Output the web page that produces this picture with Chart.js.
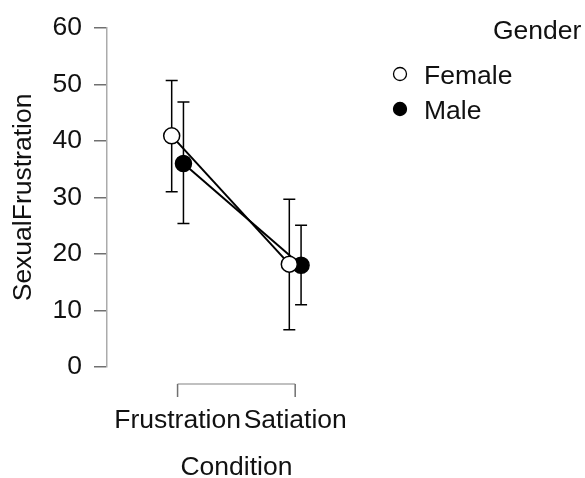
<!DOCTYPE html>
<html><head><meta charset="utf-8">
<script src="https://cdn.jsdelivr.net/npm/chart.js@4"></script>
<style>html,body{margin:0;padding:0;background:#fff}#wrap{width:585px;height:478px}</style>
</head><body><div id="wrap"><canvas id="c" width="585" height="478"></canvas></div>
<script>
const categories = ['Frustration', 'Satiation'];
const seriesNames = ['Female', 'Male'];
const femaleMeans = [40.9, 18.2];
const femaleLower = [31.0, 6.6];
const femaleUpper = [50.7, 29.7];
const maleMeans = [36.0, 18.0];
const maleLower = [25.4, 11.0];
const maleUpper = [46.9, 25.1];
const yTicks = [0, 10, 20, 30, 40, 50, 60];
const xTitle = 'Condition';
const yTitle = 'SexualFrustration';
const legendTitle = 'Gender';

const FONT = '"Liberation Sans", Arial, sans-serif';
const FS = 26.5;
const AXIS = '#ababab';
const TICK = '#707070';
const TXT = '#111';
const dodge = [-0.05, 0.05];

function pts(means, k) {
  return means.map((m, i) => ({ x: i + 1 + dodge[k], y: m }));
}
const lows = [femaleLower, maleLower];
const highs = [femaleUpper, maleUpper];

const errorBars = {
  id: 'errorBars',
  beforeDatasetsDraw(chart) {
    const { ctx, scales: { x, y } } = chart;
    ctx.save();
    ctx.strokeStyle = '#000';
    ctx.lineWidth = 1.5;
    chart.data.datasets.forEach((ds, k) => {
      ds.data.forEach((p, i) => {
        const px = x.getPixelForValue(p.x);
        const y1 = y.getPixelForValue(lows[k][i]);
        const y2 = y.getPixelForValue(highs[k][i]);
        ctx.beginPath();
        ctx.moveTo(px, y1); ctx.lineTo(px, y2);
        ctx.moveTo(px - 6, y1); ctx.lineTo(px + 6, y1);
        ctx.moveTo(px - 6, y2); ctx.lineTo(px + 6, y2);
        ctx.stroke();
      });
    });
    ctx.restore();
  }
};

const decor = {
  id: 'decor',
  afterDraw(chart) {
    const { ctx, scales: { x, y } } = chart;
    ctx.save();
    const x1 = x.getPixelForValue(1), x2 = x.getPixelForValue(categories.length);
    const by = y.getPixelForValue(0) + 17;
    ctx.lineWidth = 1.5;
    ctx.strokeStyle = AXIS;
    ctx.beginPath(); ctx.moveTo(x1, by); ctx.lineTo(x2, by); ctx.stroke();
    ctx.strokeStyle = TICK;
    ctx.beginPath();
    ctx.moveTo(x1, by); ctx.lineTo(x1, by + 13);
    ctx.moveTo(x2, by); ctx.lineTo(x2, by + 13);
    ctx.stroke();
    ctx.fillStyle = TXT;
    ctx.font = FS + 'px ' + FONT;
    ctx.textAlign = 'center'; ctx.textBaseline = 'alphabetic';
    categories.forEach((c, i) => ctx.fillText(c, x.getPixelForValue(i + 1), 428));
    ctx.fillText(xTitle, (x1 + x2) / 2, 475);
    // legend
    ctx.textAlign = 'left';
    ctx.fillText(legendTitle, 493, 39);
    chart.data.datasets.forEach((ds, k) => {
      const cy = 74 + k * 35;
      ctx.beginPath();
      ctx.arc(400, cy, 6.5, 0, Math.PI * 2);
      ctx.fillStyle = ds.pointBackgroundColor; ctx.fill();
      ctx.strokeStyle = '#000'; ctx.lineWidth = 1.3; ctx.stroke();
      ctx.fillStyle = TXT;
      ctx.fillText(ds.label, 424, cy + 9.5);
    });
    ctx.restore();
  }
};

new Chart(document.getElementById('c'), {
  type: 'line',
  data: {
    datasets: [
      { label: seriesNames[0], data: pts(femaleMeans, 0), borderColor: '#000', borderWidth: 2,
        pointBackgroundColor: '#fff', pointBorderColor: '#000', pointBorderWidth: 1.5, pointRadius: 8 },
      { label: seriesNames[1], data: pts(maleMeans, 1), borderColor: '#000', borderWidth: 2,
        pointBackgroundColor: '#000', pointBorderColor: '#000', pointBorderWidth: 1.5, pointRadius: 8 }
    ]
  },
  options: {
    responsive: false,
    animation: false,
    devicePixelRatio: 1,
    layout: { padding: { left: 0, top: 25, right: 231, bottom: 111 } },
    plugins: { legend: { display: false }, tooltip: { enabled: false } },
    scales: {
      x: { type: 'linear', display: false, min: 0.4, max: 2.5 },
      y: {
        type: 'linear', min: 0, max: 60,
        afterBuildTicks: s => { s.ticks = yTicks.map(v => ({ value: v })); },
        afterFit: s => { s.width = 107; },
        grid: { drawOnChartArea: false, drawTicks: true, tickLength: 13, color: TICK, lineWidth: 1.5 },
        border: { display: true, color: AXIS, width: 1.5 },
        ticks: { font: { size: FS, family: FONT }, color: TXT, padding: 12 },
        title: { display: true, text: yTitle, font: { size: FS, family: FONT }, color: TXT, padding: { top: 8, bottom: 0 } }
      }
    }
  },
  plugins: [errorBars, decor]
});
</script></body></html>
